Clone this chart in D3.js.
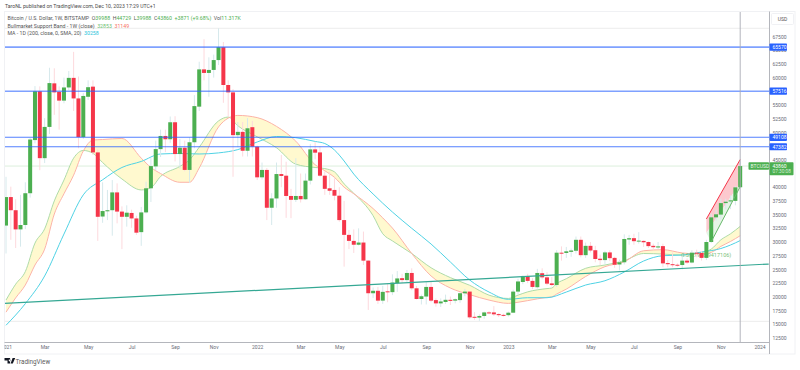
<html lang="en">
<head>
  <meta charset="UTF-8"/>
  <script src="https://d3js.org/d3.v7.min.js"></script>
  <style>
body { margin: 0; background: #fff; font-family: Roboto, sans-serif; }
svg { display: block; }
text { font-family: Roboto, sans-serif; }
.legend { font-size: 5.24px; fill: #555; }
.price-axis text { font-size: 5px; fill: #6a6d78; }
.time-axis text { font-size: 5px; fill: #6a6d78; }
  </style>
</head>
<body>
<svg width="800" height="370"></svg>
<script>
// weekly candles, index 0 = first week of Jan 2021
const opens = [33000,38200,35800,32300,33100,38900,48600,57500,45300,51000,58950,57400,55800,58200,59950,56200,49150,56500,58350,46350,34650,35600,35800,39050,35550,34600,35300,34300,31800,35400,39800,43800,46950,49350,48750,51850,46050,47200,43150,48200,54700,61500,60850,61400,63200,65550,58650,57300,49500,50100,46650,50950,47400,41800,43150,36250,37950,42400,42100,38400,37700,38400,37800,41200,46900,46350,42100,39800,39500,38450,34000,31300,30200,29500,29900,26600,20650,21100,19300,21000,20850,22500,23400,23050,24350,21550,19600,20050,21800,19400,18800,19050,19450,19300,19400,20650,20950,16350,16200,16500,17150,17150,16850,16700,16650,17100,20950,22700,23800,22900,21750,24300,23550,22450,22150,28050,28000,28200,28400,30400,27600,29300,28500,26950,26700,28100,27100,25900,26300,30450,30700,30150,30200,30000,29300,29000,29250,26150,25950,25850,25800,26600,26250,28050,28000,27100,30000,34500,35000,37100,37400,37500,39988];
const closes = [38200,35800,32300,33100,38900,48700,57500,45300,51000,59000,57300,55800,58200,59950,56200,49150,56650,58250,46350,34600,35650,35800,39050,35550,34600,35350,34300,31700,35400,39800,43850,46950,49350,48750,51850,46050,47200,43150,48200,54800,61500,60850,61400,63200,65550,58650,57300,49500,50100,46650,50750,47400,41800,43150,36250,37950,42400,42050,38400,37700,38400,37800,41200,46900,46300,42100,39700,39350,38450,34000,31300,30200,29500,29900,26600,20650,21100,19300,20900,20850,22600,23350,23050,24350,21550,19600,20100,21800,19300,18800,19150,19450,19250,19550,20650,20950,16250,16200,16500,17150,17100,16800,16650,16550,17100,20950,22800,23800,22900,21800,24350,23550,22400,22150,28050,27950,28300,28450,30400,27600,29300,28450,26900,26700,28100,27050,25850,26300,30550,30700,30150,30250,29950,29250,29050,29200,26100,25950,25800,25700,26600,26250,28050,27950,27100,30000,34500,35050,37100,37350,37600,39970,43860];
const highs = [41900,40100,37800,38600,40900,49000,58450,58400,52600,61800,61700,58400,60000,61200,64700,60200,57200,59500,59500,46900,40900,39500,41300,40700,36500,36700,35900,34800,36400,41000,45300,48500,50500,50500,52900,52950,48800,48500,49100,56800,62900,67000,63700,64200,69000,66500,59500,57900,51900,51900,52600,52100,47600,44500,43500,38900,44500,45900,44650,39700,45300,42500,42500,47900,48300,47500,42900,42800,41600,40000,37500,32200,32300,32500,31900,26700,21700,21800,22000,22500,24100,24700,24200,24900,25200,22000,20400,22800,22700,19700,19700,20400,20050,19700,20800,21450,21000,17200,16800,17300,17400,18300,17000,16900,17300,21300,23300,23900,24200,23400,25100,25200,24500,23600,28500,29200,29100,28800,31000,31000,29900,30000,29300,27700,28400,28500,27300,26800,31400,31300,31500,31800,30300,30100,29700,30000,29700,26700,28100,26100,27500,27000,28500,28600,28300,30400,35100,35900,37900,37900,38500,40200,44729];
const lows = [27900,30400,28900,29150,32350,38100,48000,43100,44400,49700,53200,50500,55300,57700,53900,47100,48800,55900,45900,30200,33500,34000,31150,33400,28700,32800,32600,31300,29300,35200,37300,43100,45500,46400,48100,44700,43400,42900,40800,47100,53900,59500,56500,60000,62300,55400,52900,41900,47300,45600,45600,45600,41300,41400,34000,33100,36250,40000,34400,34350,37300,37200,37700,40500,45100,41900,38600,38600,37600,33700,25500,28700,28000,29350,25800,17600,19800,18700,18700,19000,20300,20900,22500,22600,21200,19500,18600,18600,19000,18200,18150,18700,18500,18800,18900,20100,15950,15800,15600,16000,16800,16500,16300,16400,16400,17100,20400,22300,22500,21400,21500,23200,22100,21900,21800,26600,27100,27300,27900,27200,27100,28100,26300,25800,26000,26500,25300,24800,25900,29500,29500,29700,29100,28900,28600,28700,25400,25400,25400,25500,25000,26000,26100,27200,26600,26700,29800,33900,34100,36000,36000,36700,39988];

// bull market support band, read at these weeks
const bandWeeks = [0,2,4,6,8,10,12,14,16,18,20,24,28,30,32,36,38,40,44,46,48,52,56,60,64,66,68,70,72,76,78,80,84,88,92,96,100,104,106,108,112,113,114,116,120,124,128,132,136,140,144,146,148,150,152];
const bandUpper = [19400,22300,24600,29800,32400,37500,41300,45300,46700,46200,44500,41500,39500,39900,41950,43800,45000,47300,52100,52800,51200,49200,47200,44200,43600,43400,42800,40600,38900,34800,31500,30200,27900,25300,23500,22100,20300,19700,20300,20900,21500,21600,22400,23300,25200,25800,26600,27900,27800,27600,28100,28700,30400,31500,32853];
const bandLower = [17200,19800,22150,25800,28700,35100,38800,42200,46600,48600,48700,48900,45300,43600,42500,40900,40900,43500,51000,52600,53100,52700,51100,48400,44100,43000,41800,40000,38800,36100,34400,32550,27900,23800,21600,20400,19400,18800,19000,19300,19900,20000,20500,21400,23700,25500,26400,28400,28600,28000,27800,28100,29200,30100,31149];

// 200 day MA
const maWeeks = [0,4,8,12,16,20,24,28,32,36,40,44,48,52,56,60,64,66,68,70,72,76,80,84,88,92,96,100,104,108,112,116,120,124,128,132,136,140,144,148,150,152];
const maValues = [14800,18750,23800,31450,38600,41350,43600,44700,46060,46150,46060,46260,46860,48250,49250,49030,48350,47970,46790,44780,42400,38760,35470,32500,29630,26350,23060,20870,19540,19830,19830,20870,22150,22930,24520,26530,27500,27630,28170,28810,29450,30258];

const levels = [65570, 57516, 49108, 47382];
const faintLevels = [69000, 15525];
const lastPrice = 43860;

const priceTicks = [67500,65000,62500,60000,55000,52500,50000,45000,40000,37500,35000,32500,30000,27500,25000,22500,20000,17500,15000,12500];
const timeWeeks = [0,8,17,26,35,43,52,61,69,78,87,96,104,113,121,130,139,148,156];
const timeLabels = ['2021','Mar','May','Jul','Sep','Nov','2022','Mar','May','Jul','Sep','Nov','2023','Mar','May','Jul','Sep','Nov','2024'];

// drawn tools
const trendWeeks = [-0.3, 157.9];
const trendPrices = [18800, 25980];
const wedgeWeeks = [145, 152];
const wedgeTop = [34200, 45050];
const wedgeBottom = [31640, 40760];
const channelWeeks = [146, 152];
const channelLine = [30050, 40090];

const svg = d3.select('svg');

const plot = { left: 4.5, right: 769.5, top: 11.5, bottom: 342.5 };

const xScale = d3.scaleLinear().domain([0, 152]).range([6, 740.2]);
const yScale = d3.scaleLinear().domain([12500, 67500]).range([337.9, 36.5]);

svg.append('clipPath').attr('id', 'plot-clip').append('rect')
  .attr('x', plot.left).attr('y', plot.top)
  .attr('width', plot.right - plot.left).attr('height', plot.bottom - plot.top);

const chart = svg.append('g').attr('clip-path', 'url(#plot-clip)');

// frame
svg.append('rect')
  .attr('x', plot.left).attr('y', plot.top)
  .attr('width', 795 - plot.left).attr('height', 354 - plot.top)
  .attr('fill', 'none').attr('stroke', '#f0f1f4');

chart.selectAll('.faint').data(faintLevels).enter().append('line')
  .attr('x1', plot.left).attr('x2', plot.right)
  .attr('y1', d => yScale(d)).attr('y2', d => yScale(d))
  .attr('stroke', '#ececec');

chart.append('line')
  .attr('x1', plot.left).attr('x2', plot.right)
  .attr('y1', yScale(lastPrice)).attr('y2', yScale(lastPrice))
  .attr('stroke', '#dcefdc');

// band
const bandData = bandWeeks.map((w, i) => ({ w: w, upper: bandUpper[i], lower: bandLower[i] }));
chart.append('path').datum(bandData)
  .attr('fill', '#fff9cf')
  .attr('d', d3.area().curve(d3.curveMonotoneX)
    .x(d => xScale(d.w)).y0(d => yScale(d.lower)).y1(d => yScale(d.upper)));
chart.append('path').datum(bandData)
  .attr('fill', 'none').attr('stroke', '#aedba9').attr('stroke-width', 1)
  .attr('d', d3.line().curve(d3.curveMonotoneX).x(d => xScale(d.w)).y(d => yScale(d.upper)));
chart.append('path').datum(bandData)
  .attr('fill', 'none').attr('stroke', '#fcb3a8').attr('stroke-width', 1)
  .attr('d', d3.line().curve(d3.curveMonotoneX).x(d => xScale(d.w)).y(d => yScale(d.lower)));

// ma
chart.append('path').datum(maWeeks.map((w, i) => [w, maValues[i]]))
  .attr('fill', 'none').attr('stroke', '#4fd2e4').attr('stroke-width', 1)
  .attr('d', d3.line().curve(d3.curveMonotoneX).x(d => xScale(d[0])).y(d => yScale(d[1])));

// wedge under candles
const wedge = [[wedgeWeeks[0], wedgeTop[0]], [wedgeWeeks[1], wedgeTop[1]], [wedgeWeeks[1], wedgeBottom[1]], [wedgeWeeks[0], wedgeBottom[0]]];
chart.append('path')
  .attr('d', d3.line().x(d => xScale(d[0])).y(d => yScale(d[1]))(wedge) + 'Z')
  .attr('fill', '#fcc9ce');
const channel = [[wedgeWeeks[0], wedgeBottom[0]], [wedgeWeeks[1], wedgeBottom[1]], [channelWeeks[1], channelLine[1]], [channelWeeks[0], channelLine[0]]];
chart.append('path')
  .attr('d', d3.line().x(d => xScale(d[0])).y(d => yScale(d[1]))(channel) + 'Z')
  .attr('fill', '#e6f4e6');

// fib text, candles cover part of it
chart.append('text')
  .attr('x', xScale(139.8)).attr('y', yScale(27250))
  .attr('font-size', 5.5).attr('fill', '#7cbf7e')
  .text('0.5(27958.9417106)');

// candles
const candles = chart.selectAll('.candle')
  .data(opens.map((o, i) => ({ i: i, o: o, c: closes[i], h: highs[i], l: lows[i] })))
  .enter().append('g').attr('class', 'candle');

candles.append('line')
  .attr('x1', d => xScale(d.i)).attr('x2', d => xScale(d.i))
  .attr('y1', d => yScale(d.h)).attr('y2', d => yScale(d.l))
  .attr('stroke', d => d.c >= d.o ? '#d6e9ec' : '#fdd9dd')
  .attr('stroke-width', 1);

candles.append('rect')
  .attr('x', d => xScale(d.i) - 2)
  .attr('width', 4)
  .attr('y', d => yScale(Math.max(d.o, d.c)))
  .attr('height', d => Math.max(1, Math.abs(yScale(d.o) - yScale(d.c))))
  .attr('fill', d => d.c >= d.o ? '#4caf50' : '#f5364a');

// trend line
chart.append('line')
  .attr('x1', xScale(trendWeeks[0])).attr('x2', xScale(trendWeeks[1]))
  .attr('y1', yScale(trendPrices[0])).attr('y2', yScale(trendPrices[1]))
  .attr('stroke', '#35a894').attr('stroke-width', 1.2);

chart.append('line')
  .attr('x1', xScale(wedgeWeeks[0])).attr('x2', xScale(wedgeWeeks[1]))
  .attr('y1', yScale(wedgeTop[0])).attr('y2', yScale(wedgeTop[1]))
  .attr('stroke', '#f5364a').attr('stroke-width', 1);
chart.append('line')
  .attr('x1', xScale(channelWeeks[0])).attr('x2', xScale(channelWeeks[1]))
  .attr('y1', yScale(channelLine[0])).attr('y2', yScale(channelLine[1]))
  .attr('stroke', '#66b96a').attr('stroke-width', 1);

// horizontal levels
chart.selectAll('.level').data(levels).enter().append('line')
  .attr('x1', plot.left).attr('x2', plot.right)
  .attr('y1', d => yScale(d)).attr('y2', d => yScale(d))
  .attr('stroke', '#2962ff')
  .attr('stroke-opacity', (d, i) => i < 2 ? 0.6 : 0.8)
  .attr('stroke-width', (d, i) => i < 2 ? 1.6 : 1.1);

// session line
chart.append('line')
  .attr('x1', xScale(152)).attr('x2', xScale(152))
  .attr('y1', plot.top).attr('y2', plot.bottom)
  .attr('stroke', '#a9abb4').attr('stroke-width', 0.9);

// axes
const priceAxis = svg.append('g').attr('class', 'price-axis')
  .attr('transform', `translate(${plot.right},0)`)
  .call(d3.axisRight(yScale).tickValues(priceTicks).tickFormat(d3.format('d')).tickSize(0).tickPadding(3));
priceAxis.select('.domain').remove();

const timeAxis = svg.append('g').attr('class', 'time-axis')
  .attr('transform', `translate(0,${plot.bottom})`)
  .attr('clip-path', 'url(#time-clip)')
  .call(d3.axisBottom(xScale).tickValues(timeWeeks).tickFormat((d, i) => timeLabels[i]).tickSize(0).tickPadding(3));
timeAxis.select('.domain').remove();
svg.append('clipPath').attr('id', 'time-clip').append('rect')
  .attr('x', plot.left).attr('y', 0).attr('width', plot.right - plot.left).attr('height', 12);

svg.append('line').attr('x1', plot.left).attr('x2', plot.right)
  .attr('y1', plot.bottom).attr('y2', plot.bottom)
  .attr('stroke', '#b4b6bc').attr('stroke-width', 1);
svg.append('line').attr('x1', plot.right).attr('x2', plot.right)
  .attr('y1', plot.top).attr('y2', 354)
  .attr('stroke', '#b4b6bc').attr('stroke-width', 1);

svg.append('rect').attr('x', 771.5).attr('y', 13.5).attr('width', 22).attr('height', 11)
  .attr('rx', 1).attr('fill', '#fff').attr('stroke', '#f0f1f4');
svg.append('text').attr('x', 782.5).attr('y', 20.8).attr('text-anchor', 'middle')
  .attr('font-size', 5).attr('fill', '#555').text('USD');

// level tags
const tags = svg.selectAll('.tag').data(levels).enter().append('g')
  .attr('transform', d => `translate(${plot.right},${yScale(d)})`);
tags.append('rect').attr('x', 0).attr('y', -3.6).attr('width', 17.5).attr('height', 7.2)
  .attr('rx', 0.8).attr('fill', '#2962ff');
tags.append('text').attr('x', 3).attr('y', 1.8)
  .attr('font-size', 5).attr('fill', '#fff').text(d => d);

// last price tags
svg.append('rect').attr('x', 748.5).attr('y', yScale(lastPrice) - 3.8).attr('width', 20.5).attr('height', 7.6)
  .attr('rx', 0.8).attr('fill', '#4caf50');
svg.append('text').attr('x', 750.5).attr('y', yScale(lastPrice) + 1.8)
  .attr('font-size', 5).attr('fill', '#e8f5e8').text('BTCUSD');
svg.append('rect').attr('x', plot.right).attr('y', yScale(lastPrice) - 3.8).attr('width', 24).attr('height', 13)
  .attr('rx', 0.8).attr('fill', '#4caf50');
svg.append('text').attr('x', plot.right + 3).attr('y', yScale(lastPrice) + 1.8)
  .attr('font-size', 5).attr('fill', '#fff').text(lastPrice);
svg.append('text').attr('x', plot.right + 3).attr('y', yScale(lastPrice) + 7.2)
  .attr('font-size', 4.8).attr('fill', '#d6edd7').text('07:30:08');

// header
svg.append('text').attr('x', 5).attr('y', 8)
  .attr('font-size', 5.15).attr('fill', '#4a4a4a')
  .text('TaroNL published on TradingView.com, Dec 10, 2023 17:29 UTC+1');

const legendRows = [
  { y: 20, parts: [
    { t: 'Bitcoin / U.S. Dollar, 1W, BITSTAMP  O', c: '#555' }, { t: '39988', c: '#4caf50' },
    { t: '  H', c: '#555' }, { t: '44729', c: '#4caf50' },
    { t: '  L', c: '#555' }, { t: '39988', c: '#4caf50' },
    { t: '  C', c: '#555' }, { t: '43860  +3871 (+9.68%)', c: '#4caf50' },
    { t: '  Vol', c: '#555' }, { t: '11.317K', c: '#4caf50' } ] },
  { y: 27.5, parts: [
    { t: 'Bullmarket Support Band - 1W (close)  ', c: '#555' }, { t: '32853', c: '#6cbd70' },
    { t: '  ', c: '#555' }, { t: '31149', c: '#f7725f' } ] },
  { y: 35, parts: [
    { t: 'MA - 1D (200, close, 0, SMA, 20)  ', c: '#555' }, { t: '30258', c: '#29c4da' } ] }
];
legendRows.forEach(row => {
  const t = svg.append('text').attr('class', 'legend').attr('x', 7.5).attr('y', row.y)
    .attr('xml:space', 'preserve').style('white-space', 'pre');
  row.parts.forEach(p => t.append('tspan').style('fill', p.c).text(p.t));
});

// logo
svg.append('path')
  .attr('d', 'M4.5 358h5.6v5.4h-2.6v-3h-3zM10.6 363.4l2-5.4h2.6l-2.4 5.4z M9.6 359.5a0.9 0.9 0 1 0 0.01 0z')
  .attr('fill', '#131722');
svg.append('text').attr('x', 15.5).attr('y', 364)
  .attr('font-size', 6.3).attr('fill', '#5a5a5a').text('TradingView');
</script>
</body>
</html>
